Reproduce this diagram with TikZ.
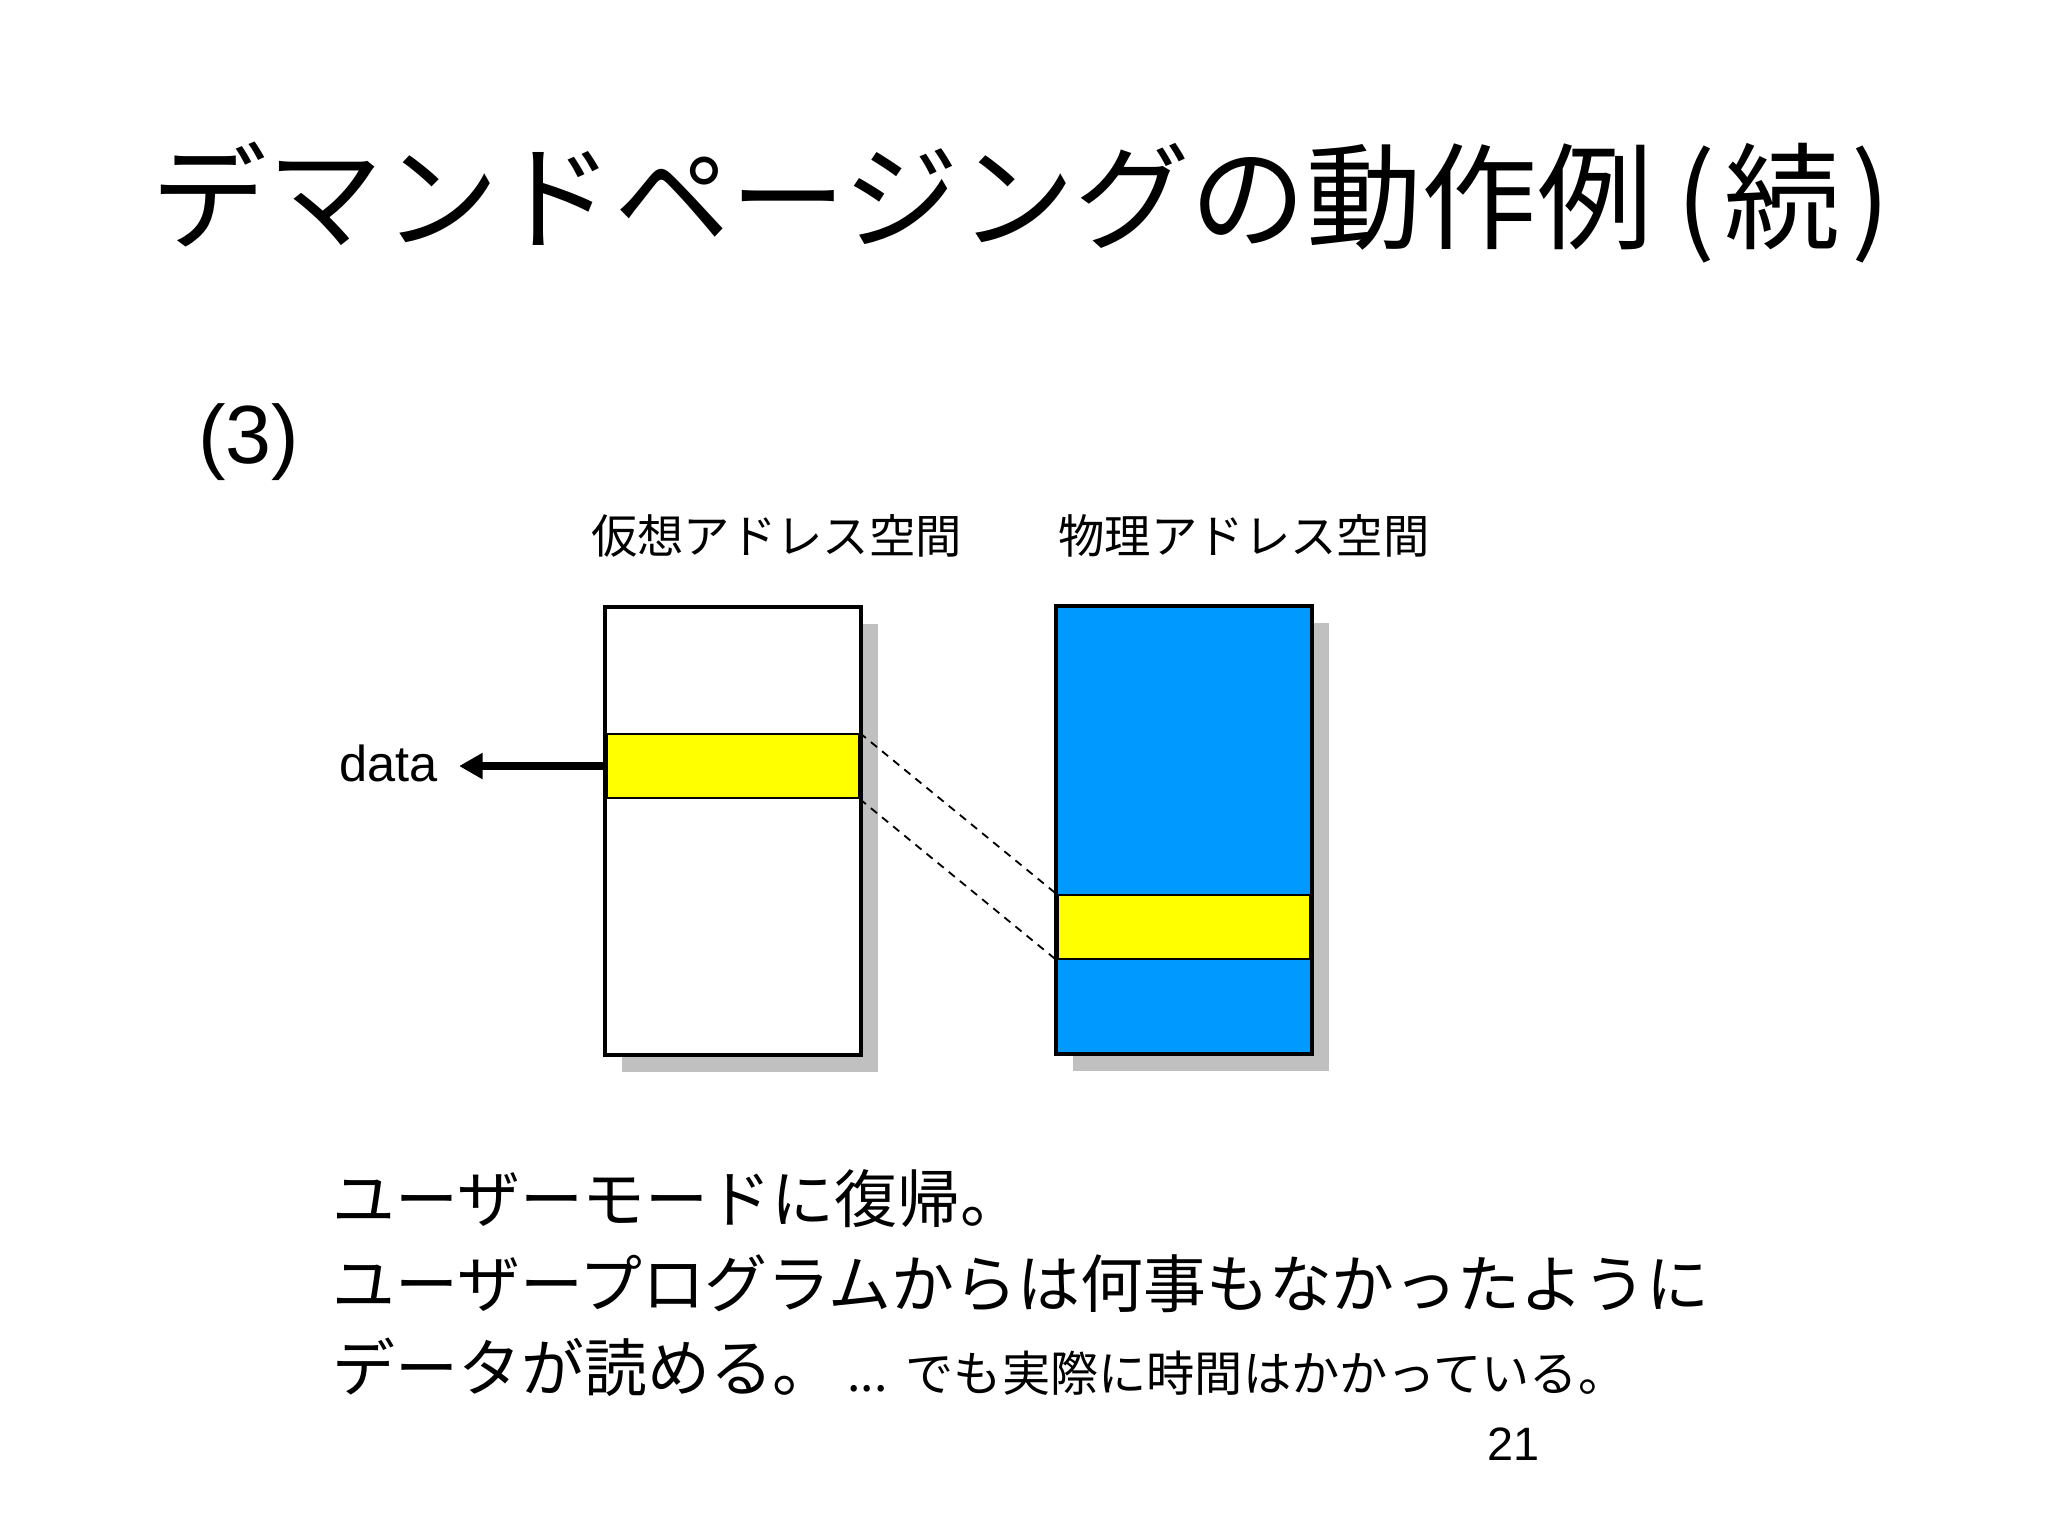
\documentclass[tikz,border=0pt]{standalone}
\usepackage{fontspec}
\setmainfont{Liberation Sans}
\newfontfamily\jpfont{Noto Sans CJK JP}
\usetikzlibrary{arrows.meta, shadows}
\definecolor{pageblue}{RGB}{0,153,255}
\definecolor{pageyellow}{RGB}{255,255,0}
\definecolor{shadowgray}{RGB}{192,192,192}

\begin{document}
\begin{tikzpicture}[x=0.1mm, y=-0.1mm,
  spacebox/.style={draw, line width=0.85pt, minimum width=19.6mm, minimum height=34.3mm, inner sep=0pt,
    general shadow={fill=shadowgray, shadow xshift=1.3mm, shadow yshift=-1.3mm}},
  pageband/.style={draw, fill=pageyellow, line width=0.45pt, minimum width=19.3mm, minimum height=4.9mm, inner sep=0pt},
  spacelabel/.style={anchor=base, inner sep=0pt, font=\jpfont\fontsize{10.1}{12}\selectfont},
  bodyline/.style={anchor=base west, inner sep=0pt, font=\jpfont\fontsize{13.7}{16}\selectfont},
  maplink/.style={line width=0.4pt, dash pattern=on 0.6mm off 0.5mm},
  readarrow/.style={line width=1.7pt, -{Triangle[length=1.8mm, width=1.9mm]}}]
% Page
\path[fill=white, use as bounding box] (0,0) rectangle (1568,1176);
% Title
\node (title) [anchor=base, inner sep=0pt, font=\jpfont\fontsize{25.2}{30}\selectfont] at (782,184) {デマンドページングの動作例\hspace{0.2em}(\hspace{0.08em}続\hspace{0.1em})};
\node (stepno) [anchor=base west, inner sep=0pt, font=\fontsize{18}{21}\selectfont] at (151,355) {(3)};
% Address spaces
\node (vlabel) [spacelabel] at (594.5,423.5) {仮想アドレス空間};
\node (plabel) [spacelabel] at (952.5,423.5) {物理アドレス空間};
\node (virt) [spacebox, fill=white] at (561,636.5) {};
\node (phys) [spacebox, fill=pageblue] at (906.5,635.5) {};
\node (vpage) [pageband] at (561,586.5) {};
\node (ppage) [pageband] at (906.5,710) {};
% Mapping
\draw[maplink] (vpage.north east) -- (ppage.north west);
\draw[maplink] (vpage.south east) -- (ppage.south west);
% Read
\node (data) [anchor=base east, inner xsep=1.55mm, inner ysep=0pt, font=\fontsize{11}{13}\selectfont] at (351.5,598) {data};
\draw[readarrow] (vpage.west) -- (vpage.west -| data.east);
% Explanation
\node (line1) [bodyline] at (254,936) {ユーザーモードに復帰。};
\node (line2) [bodyline] at (254,1001) {ユーザープログラムからは何事もなかったように};
\node (line3) [bodyline] at (254,1065) {データが読める。};
\node (note) [anchor=base west, inner sep=0pt, font=\jpfont\fontsize{10.5}{12}\selectfont] at (648,1065) {...\hspace{1.4mm}でも実際に時間はかかっている。};
% Page number
\node (pageno) [anchor=base west, inner sep=0pt, font=\fontsize{10.2}{12}\selectfont] at (1138,1118) {21};
\end{tikzpicture}
\end{document}
